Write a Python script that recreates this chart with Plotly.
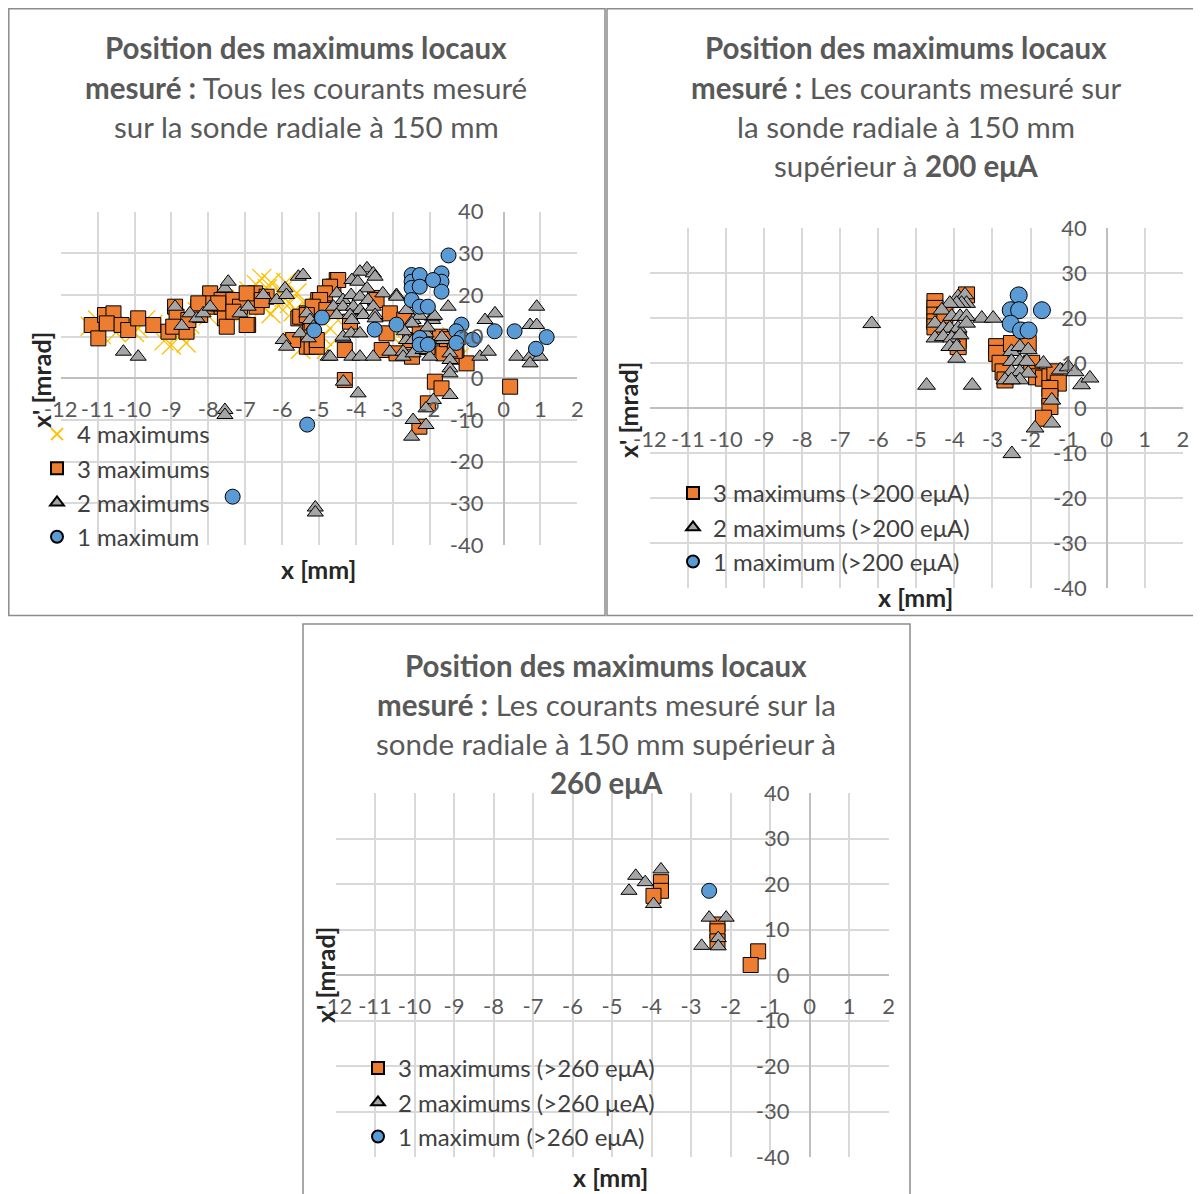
import plotly.graph_objects as go

# page body has an 8px margin: figure is drawn from (8,8)
OFF = 8
W, H = 1201 - OFF, 1194 - OFF

# ---------------- DATA ----------------
# Panel 1 : tous les courants
p1_x4 = [-11.2, -11.0, -10.9, -10.7, -10.5, -10.2, -9.9, -9.5, -9.2, -9.0, -8.8, -8.6, -8.5, -8.3, -8.0,
         -7.8, -7.6, -7.3, -7.1, -6.9, -6.7, -6.6, -6.5, -6.4, -6.3, -6.2, -6.1, -6.0, -5.9, -5.8, -5.7,
         -5.6, -5.5, -5.4, -5.3, -5.7, -5.5, -5.3, -5.1, -4.9, -4.7, -4.8, -3.0, -2.6, -2.2, -1.8, -1.5,
         -1.4, -1.2, -4.6, -6.8, -6.3, -5.95, -6.55, -7.0, -10.0, -9.7, -8.9]
p1_y4 = [12.5, 14, 10.5, 13, 11, 13.5, 12, 13, 9, 8, 10.5, 8.5, 13, 16, 15,
         17, 19, 16.5, 19, 21, 22.5, 19, 17, 21.5, 23, 19.5, 17.5, 21, 23, 18, 16,
         20.5, 15, 18, 14, 9, 7, 11, 8, 10, 12, 7, 10, 8, 11, 9.5, 7,
         10, 5, 15, 18, 15.5, 19.5, 24, 16, 11, 14, 12]

p1_x3 = [-11.16, -10.98, -10.8, -10.57, -10.75, -10.35, -10.17, -9.9, -9.49, -9.08, -8.9, -8.86, -8.95,
         -8.59, -8.54, -8.27, -8.22, -7.95, -7.91, -7.64, -7.64, -7.55, -7.5, -7.32, -7.14, -6.92, -6.73,
         -6.69, -6.42, -7.95, -8.27, -7.73, -6.96, -6.55, -7.32, -6.96, -5.56, -5.33, -5.24, -5.02, -5.56,
         -5.33, -5.51, -5.2, -5.2, -5.06, -5.7, -4.61, -4.52, -4.88, -4.3, -4.3, -4.48, -4.7, -4.84, -4.97,
         -5.17, -4.8, -5.33, -5.06, -4.16, -3.48, -3.44, -3.08, -3.17, -3.3, -2.9, -2.53, -2.1, -1.72,
         -1.45, -1.28, -1.0, -1.86, -1.68, -2.05, -2.28, -1.63, -1.28, -2.69, -2.48, -2.27, -2.06, -1.53,
         -1.32, 0.18]
p1_y3 = [12.8, 9.6, 15.2, 15.6, 13.2, 12.8, 11.6, 14.4, 12.8, 11.2, 17.2, 14.8, 12.4,
         11.2, 14, 17.2, 15.2, 20.4, 17.2, 18.8, 17.2, 14.4, 12.4, 18.8, 17.2, 12.8, 20.4,
         17.2, 19.6, 18, 18, 18, 20.4, 18.8, 16, 12.8, 14.4, 15.6, 12.4, 18.8, 9.2,
         7.6, 14.8, 11.6, 7.6, 7.6, 9.2, 22, 23.6, 18, 6.8, -0.4, 23.6, 22, 20.4, 18.8,
         17.2, 16.4, 15.2, 9.2, 13.6, 19.3, 18.8, 15.6, 10.8, 6.8, 6, 9.2, 9.6, 10,
         8.4, 5.2, 3.6, -0.8, -2.4, -6, -11.6, 6, 6.8, 14.1, 5.2, 10.8, 7.5, 9.4,
         6.6, -2]

p1_x2 = [-10.3, -9.9, -8.9, -8.72, -8.5, -8.31, -8.14, -7.95, -7.55, -7.46, -7.14, -6.92, -7.55, -7.55,
         -6.51, -6.15, -5.92, -5.88, -5.56, -5.97, -5.88, -5.51, -5.33, -5.24, -5.15, -5.29, -5.1, -5.1,
         -4.75, -4.34, -4.11, -3.89, -3.53, -4.34, -3.94,
         -3.70, -3.89, -3.53, -4.11, -3.95, -3.7, -3.48, -4.52, -4.35, -4.13, -3.89, -3.67, -3.27, -2.9,
         -4.61, -4.35, -4.07, -3.89, -3.53, -4.52, -4.16, -3.8, -3.48, -4.11, -3.48, -4.35, -4.13, -3.89,
         -4.7, -3.08, -2.9, -2.72, -2.63, -2.45, -2.63, -2.45, -2.23, -2.1, -1.92, -1.92, -2.72, -2.45,
         -2.18, -2.0, -1.5, -1.63, -1.45, -1.45, -1.45, -1.45, -1.45, -1.9, -2.1, -2.45, -2.1, -2.49,
         -0.64, -0.41, -0.5, -0.23, 0.36, 0.72, 0.72, 0.99, 0.72, 0.9, 0.9, -5.43, -2.27, -2.06, -2.48,
         -2.69, -1.87, -1.67]
p1_y2 = [6.4, 5.2, 17.2, 12.6, 15.6, 14.4, 15.6, 17.2, 21.6, 23.2, 15.6, 17.2, -7.6, -8.8,
         20, 18.8, 21.6, 20, 24.4, 9.2, 7.6, 10.8, 15.6, 14, 12.4, 9.6, -31, -32.2,
         5.2, 9.6, 5.2, 5.2, 5.2, -0.8, -3.6,
         26.4, 25.6, 25.2, 23.6, 23.2, 21.6, 24.4, 20.4, 18.8, 20, 19.6, 18.8, 20.4, 20,
         17.2, 17.2, 17.2, 16.4, 17.2, 15.2, 15.2, 15.2, 15.2, 14, 14.4, 10, 10.8, 10.8,
         5.2, 6.4, 19.6, 6.4, 16.4, 14, 9.2, 9.2, 9.2, 10.8, 14, 14.8, 5.2, 6,
         6.8, 5.2, 17.2, 9.2, 6, 4.4, 2.4, 1.2, -4, -5.2, -7.2, -10, -11.2, -14,
         5.2, 6.4, 14, 15.6, 5.2, 5.2, 3.6, 5.2, 12.8, 17.2, 12.8, 24.8, 15, 12.2, 13.2,
         11.3, 15, 9.9]

p1_x1 = [-1.49, -2.49, -2.49, -2.49, -2.27, -2.27, -1.68, -1.68, -1.68, -1.91, -2.49, -2.27, -2.05,
         -2.9, -3.49, -1.14, -1.28, -1.14, -1.28, -0.83, -0.24, 0.3, -2.27, -2.27, -2.05, 1.17, 0.88,
         -4.92, -5.13, -5.32, -7.34]
p1_y1 = [29.5, 24.8, 23.2, 21.7, 24.8, 22, 25.2, 23.2, 20.8, 23.6, 18.8, 17.2, 17.2,
         12.9, 11.7, 12.9, 11.3, 9.7, 8.5, 9.3, 11.3, 11.3, 9.7, 8.1, 8.1, 9.9, 7.1,
         14.6, 11.5, -11.1, -28.4]

# Panel 2 : > 200 eμA
p2_x3 = [-4.51, -4.51, -4.51, -4.51, -4.51, -3.68, -3.9, -3.9, -4.25,
         -2.89, -2.89, -2.8, -2.72, -2.67, -2.5, -2.06, -1.97, -1.84, -1.66, -1.49, -1.36, -1.27,
         -1.49, -1.49, -1.49, -1.66]
p2_y3 = [23.7, 22.2, 20.7, 19.2, 18.1, 25.2, 15.2, 13.7, 20.7,
         13.7, 12.2, 10, 8.1, 6.3, 14.4, 14.4, 10, 7, 6.7, 7, 8.1, 5.6,
         4.4, 2.6, 0.4, -2.2]

p2_x2 = [-6.17, -4.73, -3.53, -3.28, -2.98,
         -3.9, -3.72, -3.68, -3.81, -3.94, -4.12, -4.33, -4.07, -3.85, -3.68, -4.51, -4.29, -4.12, -3.9,
         -3.68, -4.51, -4.29, -4.07, -3.85, -4.12, -3.94, -3.94,
         -2.5, -2.28, -2.06, -2.5, -2.28, -2.1, -2.5, -2.28, -2.06, -2.67, -2.28, -2.5, -1.66, -1.22,
         -1.01, -0.83, -0.66, -0.44, -1.44, -1.88, -1.44, -2.49]
p2_y2 = [18.8, 5.1, 5.1, 20, 20,
         24.8, 25.2, 23.3, 23.3, 23.3, 23.3, 21.8, 20.4, 20.4, 20.4, 18.9, 17.8, 17.8, 17.8,
         18.9, 15.6, 15.9, 15.6, 16.3, 13.7, 13.7, 11.1,
         12.6, 13.7, 13, 10.4, 10.4, 10.4, 8.1, 8.1, 7.8, 6.3, 6.3, 6.3, 10, 8.5,
         9.2, 8.1, 5.2, 6.7, 1.8, -4.4, -3.3, -10.1]

p2_x1 = [-2.31, -2.52, -2.3, -1.7, -2.52, -2.25, -2.05]
p2_y1 = [25.1, 21.8, 21.8, 21.8, 18.8, 17.3, 17.3]

# Panel 3 : > 260 eμA
p3_x3 = [-3.76, -3.76, -3.95, -2.33, -2.33, -2.33, -1.3, -1.49]
p3_y3 = [20.4, 18.5, 17.4, 11.1, 9.6, 7.4, 5.2, 2.2]

p3_x2 = [-4.40, -4.57, -4.16, -3.76, -3.95, -2.54, -2.11, -2.73, -2.31, -2.31]
p3_y2 = [21.8, 18.5, 20.4, 23.2, 15.6, 12.6, 12.6, 6.4, 8.1, 6.3]

p3_x1 = [-2.54]
p3_y1 = [18.5]

x_ticks = list(range(-12, 3))
y_ticks = list(range(-40, 41, 10))

# ---------------- STYLE ----------------
FONT = "Lato"
ORANGE = "#ED7D31"
GRAY = "#A5A5A5"
BLUE = "#5B9BD5"
YELLOW = "#FFC000"
TXT = "#595959"
GRID = "#D9D9D9"


def px_x(p):
    return (p - OFF) / W


def px_y(p):
    return 1 - (p - OFF) / H


# panel plot areas in reference pixels: (x at -12, x at 2, y at 40, y at -40)
panels = [
    dict(x0=60.7, x1=577.3, yt=211.7, yb=545.0),
    dict(x0=649.8, x1=1182.8, yt=228.3, yb=588.3),
    dict(x0=335.5, x1=888.5, yt=793.0, yb=1157.0),
]

fig = go.Figure()


def mk(size, color, symbol):
    return dict(size=size, color=color, symbol=symbol, line=dict(color="#000000", width=1))


# panel 1 traces
fig.add_trace(go.Scatter(x=p1_x4, y=p1_y4, mode="markers", name="4 maximums",
                         marker=dict(size=19, symbol="x-thin-open", color=YELLOW,
                                     line=dict(color=YELLOW, width=1.3)),
                         xaxis="x", yaxis="y", legend="legend"))
fig.add_trace(go.Scatter(x=p1_x3, y=p1_y3, mode="markers", name="3 maximums",
                         marker=mk(15, ORANGE, "square"), xaxis="x", yaxis="y", legend="legend"))
fig.add_trace(go.Scatter(x=p1_x2, y=p1_y2, mode="markers", name="2 maximums",
                         marker=mk(14, GRAY, "triangle-up"), xaxis="x", yaxis="y", legend="legend"))
fig.add_trace(go.Scatter(x=p1_x1, y=p1_y1, mode="markers", name="1 maximum",
                         marker=mk(15, BLUE, "circle"), xaxis="x", yaxis="y", legend="legend"))

# panel 2 traces
fig.add_trace(go.Scatter(x=p2_x3, y=p2_y3, mode="markers", name="3 maximums (>200 eμA)",
                         marker=mk(16, ORANGE, "square"), xaxis="x2", yaxis="y2", legend="legend2"))
fig.add_trace(go.Scatter(x=p2_x2, y=p2_y2, mode="markers", name="2 maximums (>200 eμA)",
                         marker=mk(15.5, GRAY, "triangle-up"), xaxis="x2", yaxis="y2", legend="legend2"))
fig.add_trace(go.Scatter(x=p2_x1, y=p2_y1, mode="markers", name="1 maximum (>200 eμA)",
                         marker=mk(17, BLUE, "circle"), xaxis="x2", yaxis="y2", legend="legend2"))

# panel 3 traces
fig.add_trace(go.Scatter(x=p3_x3, y=p3_y3, mode="markers", name="3 maximums (>260 eμA)",
                         marker=mk(15, ORANGE, "square"), xaxis="x3", yaxis="y3", legend="legend3"))
fig.add_trace(go.Scatter(x=p3_x2, y=p3_y2, mode="markers", name="2 maximums (>260 μeA)",
                         marker=mk(14, GRAY, "triangle-up"), xaxis="x3", yaxis="y3", legend="legend3"))
fig.add_trace(go.Scatter(x=p3_x1, y=p3_y1, mode="markers", name="1 maximum (>260 eμA)",
                         marker=mk(15, BLUE, "circle"), xaxis="x3", yaxis="y3", legend="legend3"))

layout = dict(
    width=W, height=H, margin=dict(l=0, r=0, t=0, b=0),
    paper_bgcolor="white", plot_bgcolor="white",
    font=dict(family=FONT, color=TXT, size=22),
    showlegend=True,
)

for i, p in enumerate(panels):
    sfx = "" if i == 0 else str(i + 1)
    xd = [px_x(p["x0"]), px_x(p["x1"])]
    yd = [px_y(p["yb"]), px_y(p["yt"])]
    x_zero_px = p["x0"] + (p["x1"] - p["x0"]) * 12 / 14
    y_zero_px = (p["yt"] + p["yb"]) / 2
    layout["xaxis" + sfx] = dict(
        domain=xd, range=[-12, 2], tickvals=x_ticks, ticktext=[str(v) for v in x_ticks],
        showgrid=True, gridcolor=GRID, gridwidth=1.5, zeroline=True, zerolinecolor="#BFBFBF",
        zerolinewidth=1.5, showline=False, anchor="free", position=px_y(y_zero_px),
        ticks="", ticklabelstandoff=16, tickangle=0, automargin=False, fixedrange=True,
        tickfont=dict(size=22, color=TXT, family=FONT),
    )
    layout["yaxis" + sfx] = dict(
        domain=yd, range=[-40, 40], tickvals=y_ticks, ticktext=[str(v) for v in y_ticks],
        showgrid=True, gridcolor=GRID, gridwidth=1.5, zeroline=True, zerolinecolor="#BFBFBF",
        zerolinewidth=1.5, showline=False, anchor="free", position=px_x(x_zero_px),
        ticks="", ticklabelstandoff=20, automargin=False, fixedrange=True,
        tickfont=dict(size=22, color=TXT, family=FONT),
    )

leg_common = dict(bgcolor="rgba(0,0,0,0)", font=dict(size=24, color="#404040", family=FONT),
                  itemsizing="constant", xanchor="left", yanchor="top")
layout["legend"] = dict(leg_common, x=px_x(37), y=px_y(412))
layout["legend2"] = dict(leg_common, x=px_x(673), y=px_y(471))
layout["legend3"] = dict(leg_common, x=px_x(358), y=px_y(1046))

fig.update_layout(**layout)

# panel borders
borders = [(8.8, 8.8, 605, 615.5), (607, 8.8, 1205, 615.5), (303, 624, 910, 1200)]
for (a, b, c, d) in borders:
    fig.add_shape(type="rect", xref="paper", yref="paper",
                  x0=px_x(a), x1=px_x(c), y0=px_y(d), y1=px_y(b),
                  line=dict(color="#8C8C8C", width=1.5), fillcolor="rgba(0,0,0,0)", layer="below")

# titles (one annotation per line)
titles = [
    (306, [48, 87, 126], ["<b>Position des maximums locaux</b>",
                          "<b>mesuré :</b> Tous les courants mesuré",
                          "sur la sonde radiale à 150 mm"]),
    (906, [48, 87, 126, 165], ["<b>Position des maximums locaux</b>",
                               "<b>mesuré :</b> Les courants mesuré sur",
                               "la sonde radiale à 150 mm",
                               "supérieur à <b>200 eμA</b>"]),
    (606, [665, 704, 743, 782], ["<b>Position des maximums locaux</b>",
                                 "<b>mesuré :</b> Les courants mesuré sur la",
                                 "sonde radiale à 150 mm supérieur à",
                                 "<b>260 eμA</b>"]),
]
for cx, ys, lines in titles:
    for yy, t in zip(ys, lines):
        fig.add_annotation(x=px_x(cx), y=px_y(yy), xref="paper", yref="paper", text=t,
                           showarrow=False, xanchor="center", yanchor="middle",
                           font=dict(size=29.5, color=TXT, family=FONT))

# axis titles
xt = [(318, 569), (915, 597), (611, 1177)]
yt = [(41, 380), (628, 410), (325, 975)]
for (ax_, ay_) in xt:
    fig.add_annotation(x=px_x(ax_), y=px_y(ay_), xref="paper", yref="paper", text="<b>x [mm]</b>",
                       showarrow=False, xanchor="center", yanchor="middle",
                       font=dict(size=25, color="#262626", family=FONT))
for (ax_, ay_) in yt:
    fig.add_annotation(x=px_x(ax_), y=px_y(ay_), xref="paper", yref="paper", text="<b>x' [mrad]</b>",
                       showarrow=False, xanchor="center", yanchor="middle", textangle=-90,
                       font=dict(size=25, color="#262626", family=FONT))

fig.write_html("out.html")
